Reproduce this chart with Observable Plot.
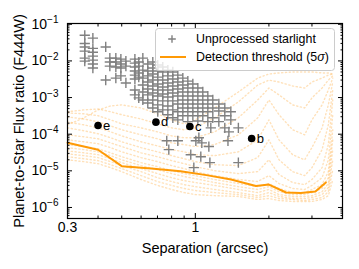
<!DOCTYPE html>
<html><head><meta charset="utf-8">
<script src="https://cdn.jsdelivr.net/npm/d3@7"></script>
<script src="https://cdn.jsdelivr.net/npm/@observablehq/plot@0.6"></script>
<style>
body{margin:0;background:#fff;}
#wrap{position:relative;width:359px;height:269px;font-family:"Liberation Sans",Arial,sans-serif;}
#legend{position:absolute;left:155px;top:28px;}
</style></head><body><div id="wrap"></div>
<script>
// ---- data ----
const sepGrid = [0.3, 0.35, 0.4, 0.45, 0.5, 0.6, 0.7, 0.8, 0.9, 1.0, 1.2, 1.5, 1.8, 2.0, 2.2, 2.5, 2.8, 3.0, 3.3, 3.5, 3.65];
const curveK1 = [2.0e-5, 1.78e-5, 1.57e-5, 1.22e-5, 9.5e-6, 5.8e-6, 4.0e-6, 3.1e-6, 2.55e-6, 2.25e-6, 2.1e-6, 2.0e-6, 1.65e-6, 1.76e-6, 1.55e-6, 1.46e-6, 1.46e-6, 1.46e-6, 1.65e-6, 2.1e-6, 5.8e-6];
const curveK2 = [2.43e-5, 2.14e-5, 1.9e-5, 1.47e-5, 1.15e-5, 7.4e-6, 5.1e-6, 4.0e-6, 3.3e-6, 2.9e-6, 2.55e-6, 2.25e-6, 1.87e-6, 2.1e-6, 1.76e-6, 1.65e-6, 1.55e-6, 1.65e-6, 1.87e-6, 2.7e-6, 1.08e-5];
const curveK3 = [2.9e-5, 2.6e-5, 2.3e-5, 1.78e-5, 1.39e-5, 9.5e-6, 6.5e-6, 5.1e-6, 4.2e-6, 3.7e-6, 3.1e-6, 2.55e-6, 2.1e-6, 2.55e-6, 2.0e-6, 1.76e-6, 1.76e-6, 1.87e-6, 2.25e-6, 3.5e-6, 2.0e-5];
const curveK4 = [3.5e-5, 3.1e-5, 2.76e-5, 2.14e-5, 1.67e-5, 1.15e-5, 8.4e-6, 6.5e-6, 5.4e-6, 4.8e-6, 4.0e-6, 3.1e-6, 2.55e-6, 3.1e-6, 2.25e-6, 2.0e-6, 2.0e-6, 2.1e-6, 2.7e-6, 4.5e-6, 3.8e-5];
const curveK5 = [4.3e-5, 3.8e-5, 3.3e-5, 2.6e-5, 2.0e-5, 1.39e-5, 1.08e-5, 8.4e-6, 7.0e-6, 6.1e-6, 4.8e-6, 3.7e-6, 3.1e-6, 3.7e-6, 2.7e-6, 2.25e-6, 2.25e-6, 2.55e-6, 3.3e-6, 6.5e-6, 7.0e-5];
const curveK6 = [5.2e-5, 4.6e-5, 4.0e-5, 3.1e-5, 2.43e-5, 1.67e-5, 1.3e-5, 1.01e-5, 8.4e-6, 7.4e-6, 5.8e-6, 4.5e-6, 3.7e-6, 4.5e-6, 3.3e-6, 2.55e-6, 2.55e-6, 3.1e-6, 4.2e-6, 9.5e-6, 1.32e-4];
const curveM1 = [7.0e-5, 6.2e-5, 5.5e-5, 4.3e-5, 3.3e-5, 2.3e-5, 1.78e-5, 1.39e-5, 1.15e-5, 9.5e-6, 7.4e-6, 5.8e-6, 5.1e-6, 7.4e-6, 4.5e-6, 3.3e-6, 3.1e-6, 4.0e-6, 6.5e-6, 2.0e-5, 3.4e-4];
const curveM2 = [9.6e-5, 8.5e-5, 7.5e-5, 5.8e-5, 4.6e-5, 3.1e-5, 2.43e-5, 1.9e-5, 1.57e-5, 1.3e-5, 1.01e-5, 8.4e-6, 9.5e-6, 2.0e-5, 7.9e-6, 4.8e-6, 4.2e-6, 5.8e-6, 1.22e-5, 5.2e-5, 8.6e-4];
const curveM3 = [1.49e-4, 1.24e-4, 1.03e-4, 8.0e-5, 6.2e-5, 4.3e-5, 3.3e-5, 2.6e-5, 2.14e-5, 1.78e-5, 1.47e-5, 1.39e-5, 2.3e-5, 7.0e-5, 2.0e-5, 9.5e-6, 7.4e-6, 1.22e-5, 3.8e-5, 1.8e-4, 1.61e-3];
const curveM4 = [2.17e-4, 1.8e-4, 1.49e-4, 1.16e-4, 9.0e-5, 6.2e-5, 4.8e-5, 3.8e-5, 3.3e-5, 2.76e-5, 2.6e-5, 3.3e-5, 7.0e-5, 2.46e-4, 7.0e-5, 2.76e-5, 2.0e-5, 4.3e-5, 1.49e-4, 6.3e-4, 2.65e-3];
const curveU1 = [2.97e-4, 2.6e-4, 2.17e-4, 1.69e-4, 1.32e-4, 9.6e-5, 7.5e-5, 5.8e-5, 5.2e-5, 4.6e-5, 5.2e-5, 9.6e-5, 2.8e-4, 8.6e-4, 3.4e-4, 1.32e-4, 9.6e-5, 2.46e-4, 6.3e-4, 1.61e-3, 3.4e-3];
const curveU2 = [3.8e-4, 3.6e-4, 3.2e-4, 2.46e-4, 1.92e-4, 1.49e-4, 1.16e-4, 9.0e-5, 8.0e-5, 8.0e-5, 1.16e-4, 2.8e-4, 8.6e-4, 1.82e-3, 1.18e-3, 6.3e-4, 5.2e-4, 9.8e-4, 1.82e-3, 3.0e-3, 3.9e-3];
const curveU3 = [4.1e-4, 4.6e-4, 4.9e-4, 4.1e-4, 3.4e-4, 2.6e-4, 1.92e-4, 1.49e-4, 1.32e-4, 1.49e-4, 2.8e-4, 7.6e-4, 2.2e-3, 3.0e-3, 2.65e-3, 2.07e-3, 1.82e-3, 2.65e-3, 3.4e-3, 4.1e-3, 4.4e-3];
const curveU4 = [1.8e-4, 2.8e-4, 4.6e-4, 5.9e-4, 6.3e-4, 5.2e-4, 3.6e-4, 2.46e-4, 1.92e-4, 2.46e-4, 5.2e-4, 1.42e-3, 3.4e-3, 4.4e-3, 4.7e-3, 5.0e-3, 5.0e-3, 5.0e-3, 4.7e-3, 4.7e-3, 4.4e-3];
const contrastCurves = [curveK1, curveK2, curveK3, curveK4, curveK5, curveK6, curveM1, curveM2, curveM3, curveM4, curveU1, curveU2, curveU3, curveU4];

// Unprocessed starlight, grouped by separation column
const starSep = [0.353, 0.381, 0.430, 0.447, 0.473, 0.496, 0.52, 0.566, 0.587, 0.610, 0.639, 0.670, 0.702, 0.736, 0.772, 0.809, 0.848, 0.889, 0.932, 0.977, 1.024, 1.073, 1.125, 1.179, 1.248, 1.32, 1.397, 1.50];
const starFlux = [
  [5.0e-2, 3.0e-2, 2.4e-2, 1.85e-2, 1.19e-2, 9.9e-3],
  [4.2e-2, 2.2e-2, 1.73e-2, 1.35e-2, 1.05e-2, 8.2e-3, 6.4e-3],
  [2.4e-2, 3.0e-3],
  [1.19e-2, 9.3e-3, 7.2e-3],
  [1.19e-2, 9.3e-3, 6.8e-3, 3.4e-3],
  [1.12e-2, 8.2e-3, 6.4e-3, 3.9e-3],
  [9.9e-3, 7.2e-3, 2.5e-3],
  [1.12e-2, 8.7e-3, 6.8e-3, 5.3e-3, 4.1e-3, 3.2e-3, 1.61e-3, 1.18e-3],
  [9.3e-3, 7.2e-3, 4.7e-3, 3.6e-3, 9.8e-4],
  [1.19e-2, 5.6e-3, 3.4e-3, 2.2e-3, 1.42e-3, 8.6e-4],
  [8.2e-3, 5.3e-3, 3.9e-3, 2.65e-3, 1.71e-3, 1.18e-3, 7.1e-4],
  [9.3e-3, 6.4e-3, 4.4e-3, 3.0e-3, 2.07e-3, 1.33e-3, 8.6e-4, 5.2e-4],
  [7.7e-3, 5.3e-3, 3.6e-3, 2.35e-3, 1.61e-3, 1.10e-3, 6.3e-4, 4.1e-4],
  [6.8e-3, 5.0e-3, 3.0e-3, 1.94e-3, 1.25e-3, 8.1e-4, 4.6e-4],
  [5.6e-3, 3.9e-3, 2.5e-3, 1.61e-3, 1.04e-3, 5.9e-4, 3.4e-4],
  [5.0e-3, 3.2e-3, 2.07e-3, 1.33e-3, 8.1e-4, 4.6e-4, 2.8e-4],
  [4.1e-3, 2.65e-3, 1.71e-3, 1.10e-3, 6.7e-4, 4.1e-4, 2.46e-4],
  [3.4e-3, 2.2e-3, 1.42e-3, 8.6e-4, 5.2e-4, 3.2e-4],
  [2.8e-3, 1.82e-3, 1.10e-3, 6.7e-4, 4.1e-4, 2.2e-4],
  [2.35e-3, 1.42e-3, 8.6e-4, 5.2e-4, 3.2e-4],
  [1.82e-3, 1.10e-3, 6.7e-4, 4.1e-4, 2.3e-4],
  [1.42e-3, 8.6e-4, 5.2e-4, 3.2e-4],
  [1.10e-3, 6.7e-4, 4.1e-4, 2.2e-4],
  [8.6e-4, 5.2e-4, 2.8e-4],
  [6.7e-4, 4.3e-4, 2.2e-4],
  [5.2e-4, 3.2e-4, 1.49e-4],
  [4.1e-4, 2.46e-4],
  [1.49e-4]
];
const starLowSep  = [0.764, 0.779, 0.848, 0.958, 0.986, 1.005, 1.063, 1.136, 1.053, 1.147, 1.36, 1.50, 1.034, 1.157, 1.372];
const starLowFlux = [6.6e-5, 3.8e-5, 6.6e-5, 2.76e-5, 1.22e-5, 6.6e-5, 5.8e-5, 4.6e-5, 2.43e-5, 1.67e-5, 6.6e-5, 1.67e-5, 8.0e-5, 1.49e-4, 1.16e-4];

// Detection threshold (5 sigma)
const thrSep  = [0.30, 0.40, 0.50, 0.66, 0.87, 1.11, 1.40, 1.77, 2.0, 2.35, 2.7, 3.1, 3.42];
const thrFlux = [5.84e-5, 3.77e-5, 1.34e-5, 1.15e-5, 9.8e-6, 7.64e-6, 5.77e-6, 3.84e-6, 4.22e-6, 2.56e-6, 2.48e-6, 2.72e-6, 4.78e-6];

// Planets
const planetNames = ["e", "d", "c", "b"];
const planetSep   = [0.40, 0.69, 0.95, 1.70];
const planetFlux  = [1.72e-4, 2.13e-4, 1.62e-4, 7.6e-5];

// Ticks
const xTickValues = [0.3, 1, 4];
const xTickLabels = ["0.3", "1", "4"];
const xMinorTicks = [0.4, 0.5, 0.6, 0.7, 0.8, 0.9, 2, 3];
const yTickValues = [1e-6, 1e-5, 1e-4, 1e-3, 1e-2, 1e-1];
const yTickExps   = ["\u22126", "\u22125", "\u22124", "\u22123", "\u22122", "\u22121"];
const yMinorTicks = [];
for (let e = -7; e <= -2; e++) for (let m = 2; m <= 9; m++) { const v = m * Math.pow(10, e); if (v > 5e-7 && v < 0.105) yMinorTicks.push(v); }

const xLabel = "Separation (arcsec)";
const yLabel = "Planet-to-Star Flux ratio (F444W)";

// ---- tables ----
const cloudRows = [];
contrastCurves.forEach((c, k) => c.forEach((v, i) => cloudRows.push({curve: k, sep: sepGrid[i], flux: v})));
const starRows = [];
starSep.forEach((s, i) => starFlux[i].forEach(f => starRows.push({sep: s, flux: f})));
starLowSep.forEach((s, i) => starRows.push({sep: s, flux: starLowFlux[i]}));
const thrRows = thrSep.map((s, i) => ({sep: s, flux: thrFlux[i]}));
const planetRows = planetNames.map((n, i) => ({name: n, sep: planetSep[i], flux: planetFlux[i]}));

const xFmt = d => xTickLabels[xTickValues.indexOf(d)];
const yFmt = d => "10^" + yTickExps[yTickValues.indexOf(d)];
const blank = () => "";

const chart = Plot.plot({
  width: 359, height: 269,
  marginLeft: 67, marginRight: 17, marginTop: 23, marginBottom: 51,
  style: {fontFamily: "'Liberation Sans', Arial, sans-serif", fontSize: "14px", color: "black", background: "white", overflow: "visible"},
  x: {type: "log", domain: [0.3, 4]},
  y: {type: "log", domain: [5e-7, 0.105]},
  marks: [
    Plot.line(cloudRows, {x: "sep", y: "flux", z: "curve", stroke: "#ffa52e", strokeOpacity: 0.33, strokeWidth: 1.4, strokeDasharray: "1.2 2.6", clip: true}),
    Plot.dot(starRows, {x: "sep", y: "flux", symbol: "plus", r: 3.4, stroke: "#808080", strokeWidth: 1.4}),
    Plot.line(thrRows, {x: "sep", y: "flux", stroke: "#ff9a05", strokeWidth: 2}),
    Plot.dot(planetRows, {x: "sep", y: "flux", r: 3.8, fill: "black"}),
    Plot.text(planetRows, {x: "sep", y: "flux", text: "name", dx: 5, textAnchor: "start", fontSize: 13}),
    Plot.frame({stroke: "black", strokeWidth: 1.2}),
    Plot.axisX(xTickValues, {anchor: "bottom", tickSize: 0, tickPadding: 4, tickFormat: xFmt, fontSize: 14, label: null}),
    Plot.axisX(xTickValues, {anchor: "bottom", tickSize: -5, tickFormat: blank, label: null}),
    Plot.axisX(xTickValues, {anchor: "top", tickSize: -5, tickFormat: blank, label: null}),
    Plot.axisX(xMinorTicks, {anchor: "bottom", tickSize: -2.5, tickFormat: blank, label: null}),
    Plot.axisX(xMinorTicks, {anchor: "top", tickSize: -2.5, tickFormat: blank, label: null}),
    Plot.axisY(yTickValues, {anchor: "left", tickSize: 0, tickPadding: 9, tickFormat: yFmt, fontSize: 14, label: null}),
    Plot.axisY(yTickValues, {anchor: "left", tickSize: -5, tickFormat: blank, label: null}),
    Plot.axisY(yTickValues, {anchor: "right", tickSize: -5, tickFormat: blank, label: null}),
    Plot.axisY(yMinorTicks, {anchor: "left", tickSize: -2.5, tickFormat: blank, label: null}),
    Plot.axisY(yMinorTicks, {anchor: "right", tickSize: -2.5, tickFormat: blank, label: null}),
    Plot.text([yLabel], {text: d => d, frameAnchor: "left", textAnchor: "middle", lineAnchor: "middle", dx: -48, rotate: -90, fontSize: 14.5}),
    Plot.text([xLabel], {text: d => d, frameAnchor: "bottom", textAnchor: "middle", lineAnchor: "middle", dy: 29.5, fontSize: 14.5})
  ]
});

// superscript exponents on y tick labels
chart.querySelectorAll("text").forEach(t => {
  const s = t.textContent;
  if (s.startsWith("10^")) {
    const exp = s.slice(3);
    while (t.firstChild) t.removeChild(t.firstChild);
    const ns = "http://www.w3.org/2000/svg";
    const a = document.createElementNS(ns, "tspan"); a.textContent = "10";
    const b = document.createElementNS(ns, "tspan"); b.textContent = exp;
    b.setAttribute("dy", "-0.55em"); b.setAttribute("font-size", "10px");
    t.appendChild(a); t.appendChild(b);
  }
});

const wrap = document.getElementById("wrap");
wrap.appendChild(chart);

// legend
const legend = document.createElement("div");
legend.id = "legend";
legend.innerHTML = `<svg width="181" height="44" style="font-family:'Liberation Sans',Arial,sans-serif;font-size:12.4px">
<rect x="0.5" y="0.5" width="179" height="42" rx="3" fill="white" fill-opacity="0.8" stroke="#cccccc"/>
<path d="M13.2,11 h7.6 M17,7.2 v7.6" stroke="#808080" stroke-width="1.4" fill="none"/>
<text x="41" y="11" dy="0.35em">Unprocessed starlight</text>
<line x1="5" x2="31" y1="29" y2="29" stroke="#ff9a05" stroke-width="2"/>
<text x="41" y="29" dy="0.35em">Detection threshold (5<tspan font-style="italic">σ</tspan>)</text>
</svg>`;
wrap.appendChild(legend);
</script></body></html>
